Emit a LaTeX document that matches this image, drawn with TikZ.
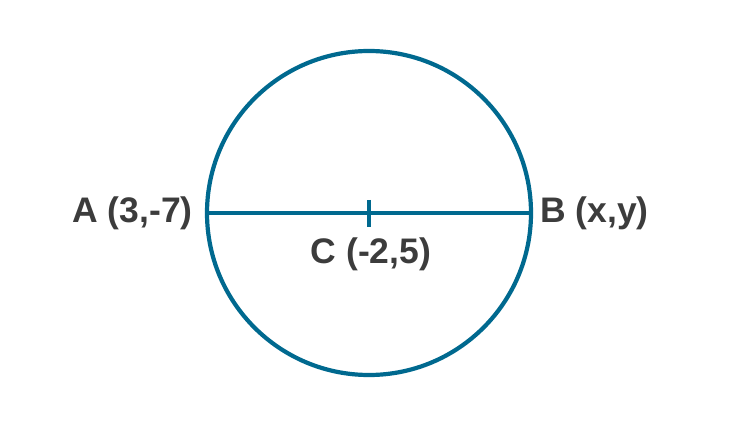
\documentclass[tikz,border=0pt]{standalone}
\usepackage{fontspec}
\setmainfont{Liberation Sans}
\definecolor{teal1}{HTML}{00698F}
\definecolor{txt}{HTML}{3C3C3C}
\begin{document}
\begin{tikzpicture}[x=1pt,y=-1pt,
  lbl/.style={font=\fontsize{35.5}{40}\selectfont\bfseries, text=txt, inner sep=0pt},
  ln/.style={draw=teal1, line width=4.2pt}]
\useasboundingbox (0,0) rectangle (751,427);
\coordinate (O) at (369,213);
\draw[ln] (O) circle (162);
\coordinate (A) at (207,213);
\coordinate (B) at (531,213);
\draw[ln] (A) -- (B);
\coordinate (t1) at (369,200);
\coordinate (t2) at (369,227);
\draw[ln] (t1) -- (t2);
\node[lbl, anchor=base east] (la) at (193,223) {A (3,-7)};
\node[lbl, anchor=base west] (lb) at (540,223) {B (x,y)};
\node[lbl, anchor=base] (lc) at (371,264) {C (-2,5)};
\end{tikzpicture}
\end{document}
